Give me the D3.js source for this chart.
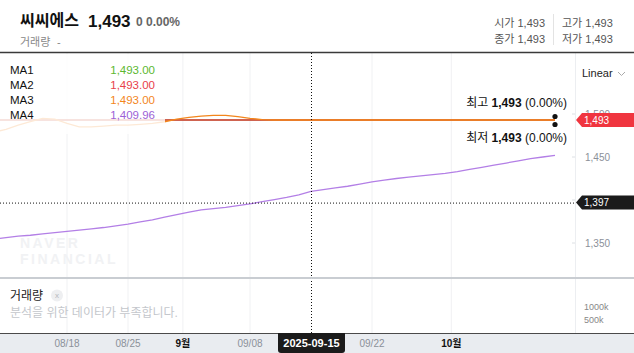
<!DOCTYPE html>
<html>
<head>
<meta charset="utf-8">
<script src="https://cdn.jsdelivr.net/npm/d3@7/dist/d3.min.js"></script>
<style>
    body { margin: 0; background: #fff; }
    svg { display: block; font-family: "Liberation Sans", "Noto Sans CJK KR", sans-serif; }
</style>
</head>
<body>
<svg id="chart" width="634" height="353"></svg>
<script>
// trading days shown on the chart
var dates = ['2025-08-07', '2025-08-08', '2025-08-11', '2025-08-12', '2025-08-13', '2025-08-14',
    '2025-08-18', '2025-08-19', '2025-08-20', '2025-08-21', '2025-08-22',
    '2025-08-25', '2025-08-26', '2025-08-27', '2025-08-28', '2025-08-29',
    '2025-09-01', '2025-09-02', '2025-09-03', '2025-09-04', '2025-09-05',
    '2025-09-08', '2025-09-09', '2025-09-10', '2025-09-11', '2025-09-12',
    '2025-09-15', '2025-09-16', '2025-09-17', '2025-09-18', '2025-09-19',
    '2025-09-22', '2025-09-23', '2025-09-24', '2025-09-25', '2025-09-26',
    '2025-09-29', '2025-09-30', '2025-10-01', '2025-10-02', '2025-10-10',
    '2025-10-13', '2025-10-14', '2025-10-15', '2025-10-16', '2025-10-17', '2025-10-20'];

var ma1 = [1493, 1493, 1493, 1493, 1493, 1493, 1493, 1493, 1493, 1493, 1493, 1493, 1493, 1493, 1493, 1493,
    1493, 1493, 1493, 1493, 1493, 1493, 1493, 1493, 1493, 1493, 1493, 1493, 1493, 1493, 1493, 1493,
    1493, 1493, 1493, 1493, 1493, 1493, 1493, 1493, 1493, 1493, 1493, 1493, 1493, 1493, 1493];
var ma2 = [1493, 1493, 1493, 1493, 1493, 1493, 1493, 1493, 1493, 1493, 1493, 1493, 1493, 1493, 1493, 1493,
    1493, 1493, 1493, 1493, 1493, 1493, 1493, 1493, 1493, 1493, 1493, 1493, 1493, 1493, 1493, 1493,
    1493, 1493, 1493, 1493, 1493, 1493, 1493, 1493, 1493, 1493, 1493, 1493, 1493, 1493, 1493];
var ma3 = [1479, 1482, 1487, 1491, 1495, 1494, 1489, 1485, 1485, 1486, 1487, 1487, 1488, 1489, 1491, 1494,
    1496, 1497.5, 1498.5, 1498.5, 1497, 1495, 1493.5, 1493, 1493, 1493, 1493, 1493, 1493, 1493, 1493, 1493,
    1493, 1493, 1493, 1493, 1493, 1493, 1493, 1493, 1493, 1493, 1493, 1493, 1493, 1493, 1493];
var ma4 = [1354.5, 1356.3, 1358, 1359, 1360.5, 1362, 1363.5, 1365, 1366.5, 1368, 1370, 1372, 1374.5, 1377,
    1380, 1383, 1386, 1388.5, 1390, 1391.5, 1393.5, 1395.5, 1398, 1400.5, 1403, 1406, 1409.96, 1412, 1414,
    1416, 1418.5, 1421, 1423, 1425, 1426.5, 1428, 1429.5, 1431, 1433, 1435.5, 1438, 1440.5, 1443, 1445.5,
    1448, 1450, 1452];

var maNames = ['MA1', 'MA2', 'MA3', 'MA4'];
var maColors = ['#5cb82f', '#e8414a', '#f3861c', '#9d5fd6'];
var maLineColors = ['#5cb82f', '#e8414a', '#f3861c', '#b37fe6'];

var yTicks = [1350, 1400, 1450, 1500];
var tickDates = ['2025-08-18', '2025-08-25', '2025-09-01', '2025-09-08', '2025-09-22', '2025-10-01'];
var tickLabels = ['08/18', '08/25', '9월', '09/08', '09/22', '10월'];
var volTicks = ['1000k', '500k'];

var stockName = '씨씨에스';
var lastPrice = 1493;
var crossDate = '2025-09-15';
var crossValue = 1397;

var svg = d3.select('#chart');
var W = 634, H = 353;
var plotRight = 575, mainTop = 53, mainBottom = 278, volBottom = 333;

var x = d3.scaleLinear().domain([0, dates.length - 1]).range([-6.2, 555]);
var y = d3.scaleLinear().domain([1350, 1500]).range([243, 114]);
var step = x(1) - x(0);
var fmt = d3.format(',');
var fmt2 = d3.format(',.2f');

// header
svg.append('text').attr('x', 20).attr('y', 26).style('font-size', '16px').style('font-weight', 'bold')
    .style('fill', '#111').text(stockName);
svg.append('text').attr('x', 88).attr('y', 27).style('font-size', '17px').style('font-weight', 'bold')
    .style('fill', '#111').text(fmt(lastPrice));
svg.append('text').attr('x', 136).attr('y', 26).style('font-size', '12px').style('font-weight', 'bold')
    .style('fill', '#666').text('0 0.00%');
svg.append('text').attr('x', 20).attr('y', 46).style('font-size', '11px').style('fill', '#888').text('거래량');
svg.append('text').attr('x', 57).attr('y', 46).style('font-size', '11px').style('fill', '#888').text('-');

var info = [['시가', 545, 27, 'end'], ['종가', 545, 43, 'end'], ['고가', 562, 27, 'start'], ['저가', 562, 43, 'start']];
info.forEach(function (d) {
    svg.append('text').attr('x', d[1]).attr('y', d[2]).attr('text-anchor', d[3])
        .style('font-size', '11px').style('fill', '#555').text(d[0] + ' ' + fmt(lastPrice));
});
svg.append('line').attr('x1', 553.5).attr('x2', 553.5).attr('y1', 14).attr('y2', 45)
    .style('stroke', '#e3e3e3');

// grid
var tickIdx = tickDates.map(function (d) { return dates.indexOf(d); });
var tickX = tickIdx.map(function (i, k) {
    return tickLabels[k].indexOf('월') >= 0 ? x(i) - step / 2 : x(i);
});

svg.append('g').selectAll('line').data(tickX).enter().append('line')
    .attr('x1', function (d) { return d; }).attr('x2', function (d) { return d; })
    .attr('y1', mainTop).attr('y2', volBottom)
    .style('stroke', '#f0f1f3');

svg.append('line').attr('x1', plotRight + 0.5).attr('x2', plotRight + 0.5)
    .attr('y1', mainTop).attr('y2', volBottom).style('stroke', '#eceef1');

// watermark
svg.append('text').attr('x', 20).attr('y', 248).style('font-size', '14px').style('font-weight', 'bold')
    .style('letter-spacing', '2.5px').style('fill', '#f1f2f4').text('NAVER');
svg.append('text').attr('x', 20).attr('y', 264).style('font-size', '14px').style('font-weight', 'bold')
    .style('letter-spacing', '2.5px').style('fill', '#f1f2f4').text('FINANCIAL');

// MA lines
svg.append('clipPath').attr('id', 'mainClip').append('rect')
    .attr('x', 0).attr('y', mainTop).attr('width', plotRight).attr('height', mainBottom - mainTop);

var line = d3.line()
    .x(function (d, i) { return x(i); })
    .y(function (d) { return y(d); });

var lines = svg.append('g').attr('clip-path', 'url(#mainClip)');
[ma1, ma2, ma3, ma4].forEach(function (s, k) {
    lines.append('path').datum(s).attr('d', line)
        .style('fill', 'none').style('stroke', maLineColors[k]).style('stroke-width', 1.3);
});

// legend panel
svg.append('rect').attr('x', 0).attr('y', mainTop + 1).attr('width', 165).attr('height', 80)
    .style('fill', '#fff').style('opacity', 0.82);

var crossIdx = dates.indexOf(crossDate);
[ma1, ma2, ma3, ma4].forEach(function (s, k) {
    var yy = 74 + k * 15;
    svg.append('text').attr('x', 10).attr('y', yy).style('font-size', '11.5px').style('fill', '#111').text(maNames[k]);
    svg.append('text').attr('x', 155).attr('y', yy).attr('text-anchor', 'end').style('font-size', '11.5px')
        .style('fill', maColors[k]).text(fmt2(s[crossIdx]));
});

// high / low markers on the last candle
var lastX = x(dates.length - 1);
svg.append('circle').attr('cx', lastX).attr('cy', y(lastPrice) - 3.5).attr('r', 2.6).style('fill', '#111');
svg.append('circle').attr('cx', lastX).attr('cy', y(lastPrice) + 4.5).attr('r', 2.6).style('fill', '#111');

[['최고', 107], ['최저', 142]].forEach(function (d) {
    var t = svg.append('text').attr('x', 567).attr('y', d[1]).attr('text-anchor', 'end')
        .style('font-size', '12px').style('fill', '#111');
    t.append('tspan').text(d[0] + ' ');
    t.append('tspan').style('font-weight', 'bold').text(fmt(lastPrice));
    t.append('tspan').text(' (0.00%)');
});

// y axis
svg.append('text').attr('x', 582).attr('y', 77).style('font-size', '11px').style('fill', '#222').text('Linear');
svg.append('path').attr('d', 'M618,72 L621.5,75.5 L625,72').style('fill', 'none').style('stroke', '#aaa');

var yAxis = svg.append('g').selectAll('g').data(yTicks).enter().append('g')
    .attr('transform', function (d) { return 'translate(0,' + y(d) + ')'; });
yAxis.append('line').attr('x1', plotRight - 3).attr('x2', plotRight).style('stroke', '#dde0e4');
yAxis.append('text').attr('x', 585).attr('dy', '0.35em').style('font-size', '10px').style('fill', '#8b9099')
    .text(function (d) { return fmt(d); });

function priceTag(v, color) {
    var yy = y(v);
    svg.append('path')
        .attr('d', 'M576,' + yy + ' L582,' + (yy - 7) + ' L634,' + (yy - 7) + ' L634,' + (yy + 7) + ' L582,' + (yy + 7) + ' Z')
        .style('fill', color);
    svg.append('text').attr('x', 584).attr('y', yy).attr('dy', '0.35em').style('font-size', '10px')
        .style('fill', '#fff').text(fmt(v));
}
priceTag(lastPrice, '#f0353f');

// crosshair
var cx = x(crossIdx), cy = y(crossValue);
svg.append('line').attr('x1', cx + 0.5).attr('x2', cx + 0.5).attr('y1', mainTop).attr('y2', volBottom)
    .style('stroke', '#111').style('stroke-dasharray', '1,2');
svg.append('line').attr('x1', 0).attr('x2', plotRight).attr('y1', cy + 0.5).attr('y2', cy + 0.5)
    .style('stroke', '#111').style('stroke-dasharray', '1,2');
priceTag(crossValue, '#1b1b1b');

// top border
svg.append('line').attr('x1', 0).attr('x2', W).attr('y1', 52.5).attr('y2', 52.5)
    .style('stroke', '#3a3a3a').style('stroke-width', 1.5);

// volume pane
svg.append('line').attr('x1', 0).attr('x2', W).attr('y1', mainBottom).attr('y2', mainBottom)
    .style('stroke', '#c9cdd2').style('stroke-width', 2);
svg.append('text').attr('x', 10).attr('y', 300).style('font-size', '12px').style('fill', '#222').text('거래량');
svg.append('circle').attr('cx', 57).attr('cy', 295.5).attr('r', 6).style('fill', '#eeeff1');
svg.append('text').attr('x', 57).attr('y', 295.5).attr('dy', '0.35em').attr('text-anchor', 'middle')
    .style('font-size', '8px').style('fill', '#b5b8bd').text('x');
svg.append('text').attr('x', 10).attr('y', 317).style('font-size', '12px').style('fill', '#c4c7cc')
    .text('분석을 위한 데이터가 부족합니다.');
volTicks.forEach(function (t, k) {
    svg.append('text').attr('x', 584).attr('y', 307 + k * 13).attr('dy', '0.35em').style('font-size', '9px')
        .style('fill', '#888').text(t);
});

// x axis bar
svg.append('rect').attr('x', 0).attr('y', volBottom).attr('width', W).attr('height', H - volBottom)
    .style('fill', '#e9ecf0');
svg.append('line').attr('x1', 0).attr('x2', W).attr('y1', volBottom + 0.5).attr('y2', volBottom + 0.5)
    .style('stroke', '#4a4a4a');

svg.append('g').selectAll('text').data(tickLabels).enter().append('text')
    .attr('x', function (d, k) { return tickX[k]; })
    .attr('y', 343).attr('dy', '0.35em').attr('text-anchor', 'middle')
    .style('font-size', '10px')
    .style('font-weight', function (d) { return d.indexOf('월') >= 0 ? 'bold' : 'normal'; })
    .style('fill', function (d) { return d.indexOf('월') >= 0 ? '#111' : '#8b9099'; })
    .text(function (d) { return d; });

svg.append('path')
    .attr('d', 'M' + (cx - 33) + ',' + volBottom + ' h67 v17 q0,3 -3,3 h-61 q-3,0 -3,-3 Z')
    .style('fill', '#1b1b1b');
svg.append('text').attr('x', cx + 0.5).attr('y', 343).attr('dy', '0.35em').attr('text-anchor', 'middle')
    .style('font-size', '11px').style('font-weight', 'bold').style('fill', '#fff').text(crossDate);
</script>
</body>
</html>
